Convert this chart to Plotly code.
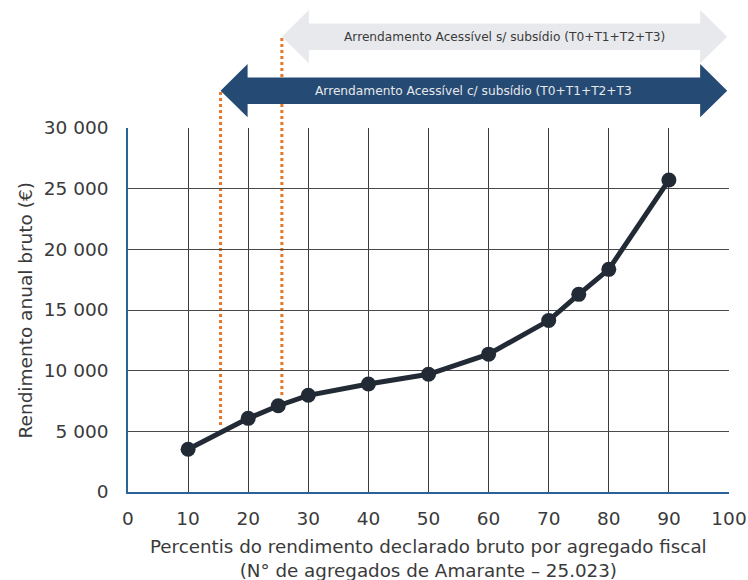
import plotly.graph_objects as go

# Percentis do rendimento declarado bruto e rendimento anual bruto correspondente (€)
percentis = [10, 20, 25, 30, 40, 50, 60, 70, 75, 80, 90]
rendimento = [3520, 6070, 7110, 7970, 8900, 9700, 11360, 14130, 16290, 18350, 25710]

# Faixas de acesso ao Arrendamento Acessível (percentil de entrada de cada faixa)
faixas_texto = [
    "Arrendamento Acessível c/ subsídio (T0+T1+T2+T3",
    "Arrendamento Acessível s/ subsídio (T0+T1+T2+T3)",
]
faixas_inicio = [15.4, 25.6]
faixas_fim = [99.7, 99.7]
faixas_corte = [5520, 8000]  # rendimento até onde desce a linha de corte

FONT = "DejaVu Sans"
TXT = "#3a3a3a"
W, H = 748, 580
M = dict(l=128, r=19, t=128, b=88)
PH = H - M["t"] - M["b"]
YMAX = 30000


def py(ypx):
    """Posição vertical em pixels (a partir do topo) -> coordenada 'paper'."""
    return (H - M["b"] - ypx) / PH


def px(x):
    """Percentil -> coordenada 'paper' horizontal (eixo 0-100)."""
    return x / 100.0


def seta(x0, x1, yc, head=4.5, half_head=26.6, half_shaft=13.3):
    a, b = px(x0), px(x1)
    h = px(x0 + head) - a
    return (
        f"M {a},{py(yc)} "
        f"L {a + h},{py(yc - half_head)} L {a + h},{py(yc - half_shaft)} "
        f"L {b - h},{py(yc - half_shaft)} L {b - h},{py(yc - half_head)} "
        f"L {b},{py(yc)} "
        f"L {b - h},{py(yc + half_head)} L {b - h},{py(yc + half_shaft)} "
        f"L {a + h},{py(yc + half_shaft)} L {a + h},{py(yc + half_head)} Z"
    )


fig = go.Figure()
fig.add_trace(
    go.Scatter(
        x=percentis,
        y=rendimento,
        mode="lines+markers",
        line=dict(color="#222a36", width=5),
        marker=dict(color="#222a36", size=15),
        cliponaxis=False,
        hoverinfo="x+y",
    )
)

setas_y = [90.7, 36.7]
setas_cor = ["#254a73", "#e8e9ec"]
setas_txt_cor = ["#e6e8ec", "#3a3a3a"]
shapes = []
annotations = []
topos = [89, 36]
for i in range(2):
    shapes.append(
        dict(
            type="path",
            xref="paper",
            yref="paper",
            path=seta(faixas_inicio[i], faixas_fim[i], setas_y[i]),
            fillcolor=setas_cor[i],
            line=dict(width=0),
            layer="above",
        )
    )
    annotations.append(
        dict(
            text=faixas_texto[i],
            xref="paper",
            yref="paper",
            x=px((faixas_inicio[i] + faixas_fim[i]) / 2),
            y=py(setas_y[i]),
            xanchor="center",
            yanchor="middle",
            showarrow=False,
            font=dict(family=FONT, size=12.2, color=setas_txt_cor[i]),
        )
    )
    # linha de corte pontilhada
    shapes.append(
        dict(
            type="line",
            xref="paper",
            yref="paper",
            x0=px(faixas_inicio[i]),
            x1=px(faixas_inicio[i]),
            y0=faixas_corte[i] / YMAX,
            y1=py(topos[i]),
            line=dict(color="#e8772a", width=3, dash="dot"),
            layer="below",
        )
    )

annotations.append(
    dict(
        text="Rendimento anual bruto (€)",
        xref="paper",
        yref="paper",
        x=-(M["l"] - 24.5) / (W - M["l"] - M["r"]),
        y=0.5,
        xanchor="center",
        yanchor="middle",
        textangle=-90,
        showarrow=False,
        font=dict(family=FONT, size=18.5, color=TXT),
    )
)
annotations.append(
    dict(
        text="Percentis do rendimento declarado bruto por agregado fiscal<br>(N° de agregados de Amarante – 25.023)",
        xref="paper",
        yref="paper",
        x=0.5,
        y=py(558.5),
        xanchor="center",
        yanchor="middle",
        showarrow=False,
        font=dict(family=FONT, size=18.3, color=TXT),
    )
)

fig.update_layout(
    width=W,
    height=H,
    margin=dict(M, autoexpand=False),
    paper_bgcolor="white",
    plot_bgcolor="white",
    showlegend=False,
    separators=", ",
    font=dict(family=FONT, color=TXT),
    shapes=shapes,
    annotations=annotations,
)
fig.update_xaxes(
    range=[0, 100],
    dtick=10,
    tick0=0,
    automargin=False,
    showgrid=True,
    gridcolor="#3c3c3c",
    gridwidth=1,
    zeroline=False,
    showline=True,
    linecolor="#2a6496",
    linewidth=1.5,
    ticks="",
    ticklabelstandoff=9,
    tickfont=dict(family=FONT, size=18.5, color=TXT),
)
fig.update_yaxes(
    range=[0, YMAX],
    dtick=5000,
    tick0=0,
    tickformat=",d",
    automargin=False,
    showgrid=True,
    gridcolor="#4a4a4a",
    gridwidth=1,
    zeroline=False,
    showline=True,
    linecolor="#2a6496",
    linewidth=1.5,
    ticks="",
    ticklabelstandoff=14,
    tickfont=dict(family=FONT, size=18.5, color=TXT),
)

fig.write_html("out.html")
